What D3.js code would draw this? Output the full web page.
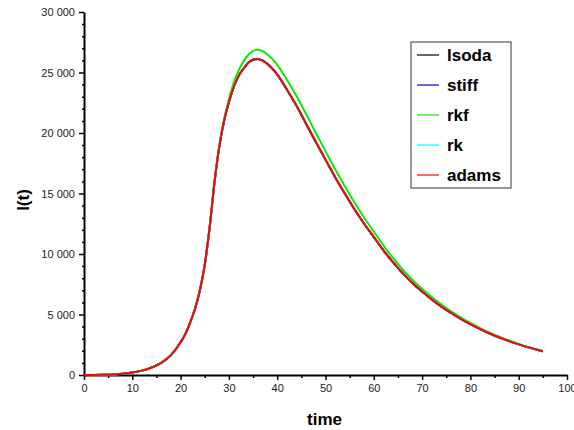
<!DOCTYPE html>
<html>
<head>
<meta charset="utf-8">
<script src="https://cdn.jsdelivr.net/npm/d3@7"></script>
<style>
  body { margin: 0; background: #fff; }
  svg { display: block; font-family: "Liberation Sans", Arial, sans-serif; }
</style>
</head>
<body>
<svg id="chart" width="574" height="430"></svg>
<script>
// time samples (days) and infected counts I(t)
const time = [0, 2, 4, 6, 8, 10, 12, 14, 16, 18, 20, 21, 22, 23, 24, 25, 26, 27, 28, 29,
  30, 31, 32, 33, 34, 35, 36, 37, 38, 40, 42, 44, 46, 48, 50, 52, 54, 56, 58, 60,
  62, 64, 66, 68, 70, 72, 74, 76, 78, 80, 82, 84, 86, 88, 90, 92, 94, 95];

const adams = [0, 10, 25, 50, 110, 200, 360, 620, 1000, 1640, 2700, 3400, 4350, 5500, 7000, 9100,
  12150, 15850, 18850, 21000, 22550, 23800, 24700, 25300, 25800, 26060, 26120, 25980, 25700,
  24850, 23600, 22250, 20750, 19250, 17800, 16350, 15000, 13700, 12500, 11400,
  10300, 9300, 8400, 7600, 6900, 6250, 5650, 5130, 4640, 4200, 3800, 3430, 3100, 2800,
  2530, 2280, 2060, 1960];

const rkf = [0, 10, 25, 50, 110, 200, 360, 620, 1000, 1640, 2700, 3400, 4350, 5500, 7000, 9100,
  12150, 15850, 18880, 21150, 22800, 24150, 25150, 25900, 26450, 26780, 26880, 26760, 26480,
  25650, 24400, 23050, 21550, 20000, 18500, 17000, 15600, 14250, 13000, 11850,
  10700, 9650, 8700, 7860, 7120, 6440, 5820, 5270, 4760, 4300, 3880, 3500, 3160, 2850,
  2570, 2320, 2090, 1990];

// lsoda, stiff and rk coincide with adams in the picture
const lsoda = adams;
const stiff = adams;
const rk = adams;

const seriesNames = ["lsoda", "stiff", "rkf", "rk", "adams"];
const seriesValues = [lsoda, stiff, rkf, rk, adams];
const seriesColors = ["#000000", "#0000cc", "#00ee00", "#00ffff", "#ff0000"];

const xTicks = [0, 10, 20, 30, 40, 50, 60, 70, 80, 90, 100];
const yTicks = [0, 5000, 10000, 15000, 20000, 25000, 30000];

const W = 574, H = 430;
const margin = { top: 12, right: 7, bottom: 55, left: 84 };
const innerW = W - margin.left - margin.right;
const innerH = H - margin.top - margin.bottom;

const svg = d3.select('#chart');
const g = svg.append('g').attr('transform', `translate(${margin.left},${margin.top})`);

const x = d3.scaleLinear().domain([0, 100]).range([0, innerW]);
const y = d3.scaleLinear().domain([0, 30000]).range([innerH, 0]);

const locale = d3.formatLocale({ decimal: '.', thousands: '\u2009', grouping: [3], currency: ['', ''] });
const fmt = locale.format(',');
const spaceFmt = v => fmt(v).replace(/\u2009/g, ' ');

// minor ticks
g.append('g')
  .attr('transform', `translate(0,${innerH})`)
  .call(d3.axisBottom(x).tickValues(d3.range(5, 100, 10)).tickSize(3).tickFormat(''))
  .call(s => s.select('.domain').remove())
  .call(s => s.selectAll('line').attr('stroke-width', 1.5));

g.append('g')
  .call(d3.axisLeft(y).tickValues(d3.range(0, 30001, 1000).filter(v => v % 5000 !== 0)).tickSize(2).tickFormat(''))
  .call(s => s.select('.domain').remove())
  .call(s => s.selectAll('line').attr('stroke-width', 1.5));

// major axes
const xAxis = g.append('g')
  .attr('transform', `translate(0,${innerH})`)
  .call(d3.axisBottom(x).tickValues(xTicks).tickSize(5).tickSizeOuter(0).tickPadding(4));

const yAxis = g.append('g')
  .call(d3.axisLeft(y).tickValues(yTicks).tickFormat(spaceFmt).tickSize(5).tickSizeOuter(0).tickPadding(4));

[xAxis, yAxis].forEach(a => {
  a.select('.domain').attr('stroke-width', 2);
  a.selectAll('.tick line').attr('stroke-width', 1.5);
  a.selectAll('.tick text')
    .style('font-family', '"Liberation Sans", Arial, sans-serif')
    .style('font-size', '11px')
    .attr('fill', '#222');
});

// curves
const line = d3.line()
  .x((d, i) => x(time[i]))
  .y(d => y(d))
  .curve(d3.curveMonotoneX);

seriesValues.forEach((vals, i) => {
  g.append('path')
    .datum(vals)
    .attr('fill', 'none')
    .attr('stroke', seriesColors[i])
    .attr('stroke-width', 2)
    .attr('d', line);
});

// axis labels
svg.append('text')
  .attr('x', margin.left + x(50) - 1)
  .attr('y', 425)
  .attr('text-anchor', 'middle')
  .style('font-size', '17px')
  .style('font-weight', 'bold')
  .text('time');

svg.append('text')
  .attr('transform', 'translate(29,200) rotate(-90)')
  .attr('text-anchor', 'middle')
  .style('font-size', '17px')
  .style('font-weight', 'bold')
  .text('I(t)');

// legend
const legend = svg.append('g').attr('transform', 'translate(411,42)');
legend.append('rect')
  .attr('width', 100)
  .attr('height', 146)
  .attr('fill', '#fff')
  .attr('stroke', '#333')
  .attr('stroke-width', 1);

seriesNames.forEach((name, i) => {
  const row = legend.append('g').attr('transform', `translate(0,${13 + i * 30})`);
  row.append('line')
    .attr('x1', 6).attr('x2', 28)
    .attr('stroke', seriesColors[i])
    .attr('stroke-width', 1.2);
  row.append('text')
    .attr('x', 36)
    .attr('y', 6)
    .style('font-size', '17px')
    .style('font-weight', 'bold')
    .text(name);
});
</script>
</body>
</html>
